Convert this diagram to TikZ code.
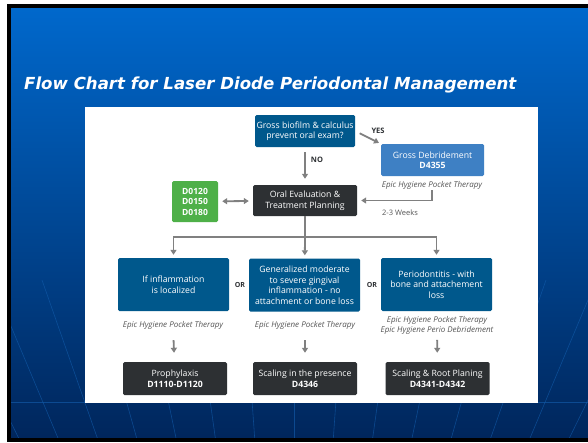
\documentclass[tikz,border=0pt]{standalone}
\usepackage{fontspec}
\setmainfont{Open Sans}
\newfontfamily\ttlfont{DejaVu Sans}
\usetikzlibrary{arrows.meta}
\definecolor{bluebox}{RGB}{0,88,140}
\definecolor{lightbox}{RGB}{62,128,196}
\definecolor{darkbox}{RGB}{45,48,51}
\definecolor{greenbox}{RGB}{78,176,72}
\definecolor{arrgray}{RGB}{128,128,128}
\definecolor{capgray}{RGB}{85,85,85}
\definecolor{raycol}{RGB}{20,95,175}
\tikzstyle{box}=[shape=rectangle, rounded corners=1.5pt, text=white, align=center, inner sep=1pt, font=\fontsize{8.7}{10.5}\selectfont]
\tikzstyle{blu}=[box, fill=bluebox, minimum width=111pt, minimum height=53pt]
\tikzstyle{drk}=[box, fill=darkbox, minimum width=104pt, minimum height=33pt]
\tikzstyle{captxt}=[text=capgray, align=center, inner sep=1pt, font=\fontsize{8}{10.5}\selectfont\itshape]
\tikzstyle{lbl}=[text=darkbox, inner sep=1pt, font=\fontsize{7.5}{8}\selectfont\bfseries]
\tikzstyle{arr}=[draw=arrgray, line width=1.8pt, -{Triangle[length=5pt,width=6pt]}]

\begin{document}
\begin{tikzpicture}[x=1pt, y=-1pt]
		\useasboundingbox (0,0) rectangle (588,442);

		% slide background
		\fill[black] (7,4) rectangle (588,442);
		\shade[top color={rgb,255:red,0;green,104;blue,204}, middle color={rgb,255:red,0;green,74;blue,152}, bottom color={rgb,255:red,0;green,38;blue,92}] (11,8) rectangle (588,437);
		\begin{scope}
			\clip (11,280) rectangle (588,437);
			\foreach \x in {-756,-686,...,1344}
				\draw[raycol, line width=.6pt, opacity=.6] (294,1000) -- (\x,0);
		\end{scope}
		\draw[raycol, line width=.6pt, opacity=.6] (11,402) -- (588,402);

		\node[anchor=base west, text=white, font=\ttlfont\fontsize{16.6}{20}\selectfont\bfseries\itshape, inner sep=0pt] (-1) at (24,89) {Flow Chart for Laser Diode Periodontal Management};

		\fill[white] (85,107) rectangle (538,403);

		% top part
		\node[box, fill=bluebox, minimum width=100pt, minimum height=32pt] (1) at (305,131) {Gross biofilm \& calculus\\prevent oral exam?};
		\node[box, fill=darkbox, minimum width=104pt, minimum height=31pt] (2) at (305,200.5) {Oral Evaluation \&\\Treatment Planning};
		\node[box, fill=lightbox, minimum width=103pt, minimum height=32pt] (3) at (432.5,160) {Gross Debridement\\\textbf{D4355}};
		\node[style=captxt] (4) at (432,185) {Epic Hygiene Pocket Therapy};
		\node[box, fill=greenbox, minimum width=46pt, minimum height=41pt, font=\fontsize{8.5}{10.5}\selectfont\bfseries] (5) at (195,201.5) {D0120\\D0150\\D0180};
		\node[text=capgray, inner sep=1pt, font=\fontsize{7.5}{9}\selectfont] (6) at (400,213) {2-3 Weeks};
		\node[style=lbl] (7) at (378,131) {YES};
		\node[style=lbl] (8) at (317,160) {NO};

		\draw[arr, shorten <=5pt, shorten >=6pt] (1) -- (2);
		\draw[arr, shorten <=5pt, shorten >=2pt] (1.east) -- (3.north west);
		\draw[arr, shorten >=4pt] (4.south) |- (2.east);
		\draw[arr, {Triangle[length=5pt,width=6pt]}-{Triangle[length=5pt,width=6pt]}, shorten <=4pt, shorten >=4pt] (5) -- (2);

		% middle row
		\coordinate (0) at (305,237);
		\node[style=blu] (11) at (173.5,284.5) {If inflammation\\is localized};
		\node[style=blu] (12) at (304.5,285) {Generalized moderate\\to severe gingival\\inflammation - no\\attachment or bone loss};
		\node[style=blu] (13) at (436.5,284.5) {Periodontitis - with\\bone and attachement\\loss};
		\node[style=lbl, font=\fontsize{7}{8}\selectfont\bfseries] (14) at (240,285) {OR};
		\node[style=lbl, font=\fontsize{7}{8}\selectfont\bfseries] (15) at (372,285) {OR};

		\draw[draw=arrgray, line width=1.8pt] (2) -- (0);
		\draw[arr, shorten >=3pt] (0) -| (11);
		\draw[arr, shorten >=3pt] (0) -- (12);
		\draw[arr, shorten >=3pt] (0) -| (13);

		\node[style=captxt] (21) at (173,325) {Epic Hygiene Pocket Therapy};
		\node[style=captxt] (22) at (305,325) {Epic Hygiene Pocket Therapy};
		\node[style=captxt] (23) at (437,325.5) {Epic Hygiene Pocket Therapy\\Epic Hygiene Perio Debridement};

		% bottom row
		\node[style=drk] (31) at (175,378.5) {Prophylaxis\\\textbf{D1110-D1120}};
		\node[style=drk] (32) at (305,378.5) {Scaling in the presence\\\textbf{D4346}};
		\node[style=drk] (33) at (437.5,378.5) {Scaling \& Root Planing\\\textbf{D4341-D4342}};

		\draw[arr, shorten <=10pt, shorten >=9pt] (21) -- (31);
		\draw[arr, shorten <=10pt, shorten >=9pt] (22) -- (32);
		\draw[arr, shorten <=4pt, shorten >=9pt] (23) -- (33);
	\end{tikzpicture}
\end{document}
